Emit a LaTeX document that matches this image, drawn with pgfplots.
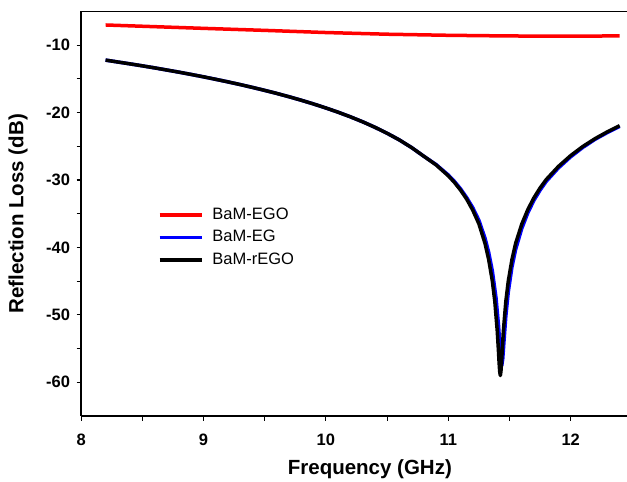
\documentclass[border=0pt]{standalone}
\usepackage{pgfplots}
\pgfplotsset{compat=1.18}
\usepackage{fontspec}
\setmainfont{Liberation Sans}
\begin{document}
\begin{tikzpicture}
\useasboundingbox (-81.1pt,-66pt) rectangle (545.9pt,416pt);
\begin{axis}[
  scale only axis,
  width=545.9pt, height=404.5pt,
  xmin=8, xmax=12.46, ymin=-65, ymax=-5,
  separate axis lines,
  axis x line*=box, axis y line*=left,
  axis line style={-, line width=1.3pt},
  xtick={8,9,10,11,12}, ytick={-60,-50,-40,-30,-20,-10},
  minor x tick num=1, minor y tick num=1,
  xtick pos=bottom, ytick pos=left,
  tick align=outside,
  major tick length=4.5pt, minor tick length=4.5pt,
  every tick/.style={black, line width=1.1pt},
  /pgf/number format/assume math mode=true,
  ticklabel style={font=\fontsize{16.5}{16.5}\selectfont\bfseries},
  xticklabel style={yshift=-10pt},
  yticklabel style={xshift=-3pt},
  xlabel={Frequency (GHz)},
  ylabel={Reflection Loss (dB)},
  label style={font=\fontsize{20.5}{20.5}\selectfont\bfseries},
  xlabel style={at={(axis description cs:0.529,0)}, anchor=center, yshift=-53pt},
  ylabel style={at={(axis description cs:-0.1156,0.5)}, anchor=center},
  legend style={draw=none, fill=none, at={(axis description cs:0.135,0.5254)}, anchor=north west,
    font=\fontsize{16.5}{16.5}\selectfont, row sep=3.5pt,
    nodes={text height=11.5pt, text depth=3.5pt, inner sep=2pt},
    /tikz/every odd column/.append style={column sep=7pt}},
  legend cell align=left,
  legend image code/.code={\draw[#1] (0pt,0pt) -- (42pt,0pt);},
  every axis plot/.append style={line join=round},
]
\addplot[red, line width=3.5pt] coordinates {
(8.2,-7.0) (8.6,-7.25) (9.0,-7.5) (9.5,-7.8) (10.0,-8.12) (10.5,-8.37) (11.0,-8.53) (11.5,-8.63) (12.0,-8.66) (12.4,-8.62)
};
\addlegendentry{BaM-EGO}
\addplot[blue, line width=3.5pt] coordinates {
(8.2,-12.21) (8.3,-12.49) (8.4,-12.77) (8.5,-13.06) (8.6,-13.36) (8.7,-13.68) (8.8,-14.00) (8.9,-14.34) (9.0,-14.69) (9.1,-15.06) (9.2,-15.44) (9.3,-15.84) (9.4,-16.26) (9.5,-16.70) (9.6,-17.16) (9.7,-17.65) (9.8,-18.17) (9.9,-18.72) (10.0,-19.31) (10.1,-19.94) (10.2,-20.62) (10.3,-21.36) (10.4,-22.17) (10.5,-23.06) (10.6,-24.05) (10.7,-25.18) (10.8,-26.47) (10.9,-27.70) (11.0,-29.25) (11.05,-30.2) (11.1,-31.3) (11.15,-32.6) (11.2,-34.1) (11.25,-35.97) (11.30,-38.62) (11.33,-40.73) (11.36,-43.5) (11.39,-47.5) (11.41,-51.5) (11.42,-54.1) (11.43,-56.7) (11.437,-57.5) (11.445,-56.5) (11.455,-53.9) (11.47,-50.2) (11.49,-46.6) (11.52,-42.9) (11.55,-40.3) (11.60,-37.2) (11.65,-34.85) (11.70,-33.0) (11.75,-31.5) (11.80,-30.2) (11.90,-28.2) (12.0,-26.55) (12.1,-25.15) (12.2,-23.95) (12.3,-22.95) (12.4,-22.05)
};
\addlegendentry{BaM-EG}
\addplot[black, line width=3.5pt] coordinates {
(8.2,-12.21) (8.3,-12.49) (8.4,-12.77) (8.5,-13.06) (8.6,-13.36) (8.7,-13.68) (8.8,-14.00) (8.9,-14.34) (9.0,-14.69) (9.1,-15.06) (9.2,-15.44) (9.3,-15.84) (9.4,-16.26) (9.5,-16.70) (9.6,-17.16) (9.7,-17.65) (9.8,-18.17) (9.9,-18.72) (10.0,-19.31) (10.1,-19.94) (10.2,-20.62) (10.3,-21.36) (10.4,-22.17) (10.5,-23.06) (10.6,-24.05) (10.7,-25.18) (10.8,-26.47) (10.9,-27.75) (11.0,-29.37) (11.05,-30.35) (11.1,-31.49) (11.15,-32.83) (11.2,-34.47) (11.25,-36.5) (11.30,-39.4) (11.33,-41.8) (11.36,-45.0) (11.38,-48.0) (11.40,-52.4) (11.41,-55.4) (11.415,-57.1) (11.42,-58.4) (11.425,-59.0) (11.43,-58.4) (11.435,-57.1) (11.44,-55.4) (11.45,-52.4) (11.47,-48.0) (11.49,-45.0) (11.52,-41.8) (11.55,-39.4) (11.60,-36.55) (11.65,-34.37) (11.70,-32.62) (11.75,-31.17) (11.80,-29.93) (11.90,-27.98) (12.0,-26.37) (12.1,-25.01) (12.2,-23.85) (12.3,-22.84) (12.4,-21.94)
};
\addlegendentry{BaM-rEGO}
\end{axis}
\draw[black, line width=1.3pt] (-0.65pt,404.5pt) -- (545.9pt,404.5pt);
\end{tikzpicture}
\end{document}
